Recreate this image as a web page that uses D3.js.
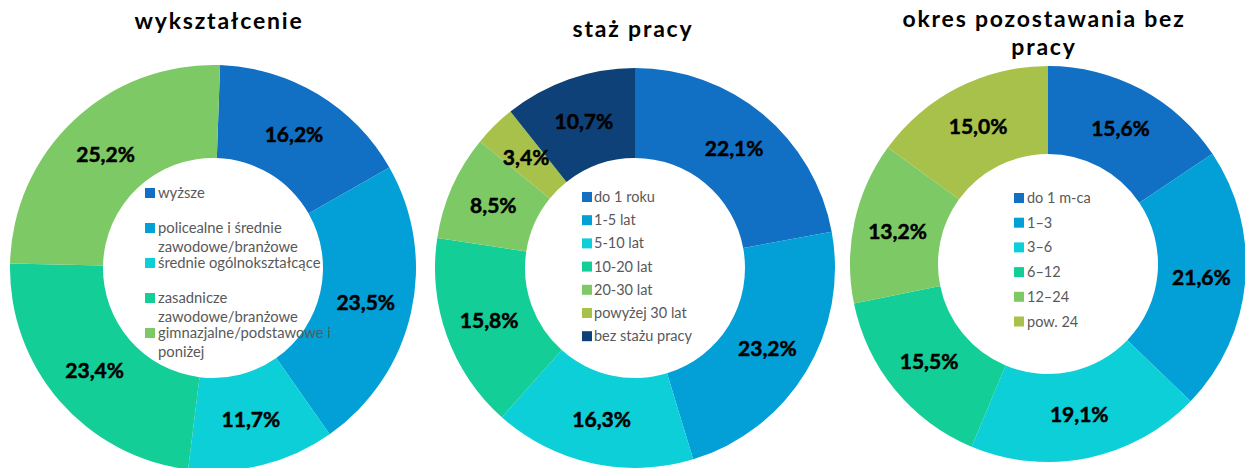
<!DOCTYPE html>
<html>
<head>
<meta charset="utf-8">
<script src="https://cdn.jsdelivr.net/npm/d3@7"></script>
<style>
  body { margin: 0; background: #fff; }
  svg { display: block; font-family: Lato, "Open Sans", sans-serif; }
</style>
</head>
<body>
<div class="canvas"></div>
<script>
// data
const eduCategories = ['wyższe', 'policealne i średnie\nzawodowe/branżowe', 'średnie ogólnokształcące',
    'zasadnicze\nzawodowe/branżowe', 'gimnazjalne/podstawowe i\nponiżej'];
const eduValues = [16.2, 23.5, 11.7, 23.4, 25.2];

const stazCategories = ['do 1 roku', '1-5 lat', '5-10 lat', '10-20 lat', '20-30 lat', 'powyżej 30 lat', 'bez stażu pracy'];
const stazValues = [22.1, 23.2, 16.3, 15.8, 8.5, 3.4, 10.7];

const okresCategories = ['do 1 m-ca', '1–3', '3–6', '6–12', '12–24', 'pow. 24'];
const okresValues = [15.6, 21.6, 19.1, 15.5, 13.2, 15.0];

const colors = ['#1270c4', '#03a0d8', '#0dcfd8', '#14ce98', '#7dc965', '#a8c14b', '#0e4177'];

const width = 1245, height = 468;
const innerR = 110;

const svg = d3.select('.canvas')
    .append('svg')
        .attr('width', width)
        .attr('height', height);

const charts = [
    {title: ['wykształcenie'], titleX: 219, titleY: 29, cats: eduCategories, vals: eduValues,
     cx: 213, cy: 268, r: 203, start: 2,
     legend: {x: 145, y: 193, step: 35, wrap: 18.5, tx: 13, fs: 14.8}},
    {title: ['staż pracy'], titleX: 633, titleY: 37, cats: stazCategories, vals: stazValues,
     cx: 635, cy: 268, r: 200, start: 0,
     legend: {x: 582, y: 197, step: 23.2, wrap: 20, tx: 12, fs: 14.5}},
    {title: ['okres pozostawania bez', 'pracy'], titleX: 1044, titleY: 27, cats: okresCategories, vals: okresValues,
     cx: 1048, cy: 264, r: 198, start: 0,
     legend: {x: 1014, y: 198, step: 24.7, wrap: 20, tx: 13, fs: 14.5}}
];

charts.forEach(c => {
    const g = svg.append('g')
        .attr('transform', `translate(${c.cx},${c.cy})`);

    const color = d3.scaleOrdinal()
        .domain(c.cats)
        .range(colors);

    const a0 = c.start * Math.PI / 180;
    const pie = d3.pie().sort(null).value(d => d)
        .startAngle(a0).endAngle(a0 + 2 * Math.PI);
    const arc = d3.arc().innerRadius(innerR).outerRadius(c.r);

    const arcs = pie(c.vals);

    g.selectAll('path')
        .data(arcs)
        .enter()
        .append('path')
        .attr('d', arc)
        .attr('fill', (d, i) => color(c.cats[i]));

    g.selectAll('text.val')
        .data(arcs)
        .enter()
        .append('text')
        .attr('class', 'val')
        .attr('transform', d => `translate(${arc.centroid(d)})`)
        .attr('text-anchor', 'middle')
        .attr('dy', '0.36em')
        .attr('font-size', 21)
        .attr('font-weight', 'bold')
        .attr('fill', '#000')
        .attr('stroke', '#000')
        .attr('stroke-width', 0.5)
        .text(d => d3.format('.1f')(d.data).replace('.', ',') + '%');

    // title
    svg.append('text')
        .attr('x', c.titleX)
        .attr('y', c.titleY)
        .attr('text-anchor', 'middle')
        .attr('font-size', 23)
        .attr('font-weight', 'bold')
        .attr('letter-spacing', 1.8)
        .attr('fill', '#000')
        .selectAll('tspan')
        .data(c.title)
        .enter()
        .append('tspan')
        .attr('x', c.titleX)
        .attr('dy', (d, i) => i ? 28 : 0)
        .text(d => d);

    // legend
    const leg = svg.append('g');
    c.cats.forEach((cat, i) => {
        const y = c.legend.y + i * c.legend.step;
        leg.append('rect')
            .attr('x', c.legend.x)
            .attr('y', y - 5)
            .attr('width', 10)
            .attr('height', 10)
            .attr('fill', color(cat));
        cat.split('\n').forEach((line, j) => {
            leg.append('text')
                .attr('x', c.legend.x + c.legend.tx)
                .attr('y', y + j * c.legend.wrap)
                .attr('dy', '0.35em')
                .attr('font-size', c.legend.fs)
                .attr('fill', '#595959')
                .text(line);
        });
    });
});
</script>
</body>
</html>
